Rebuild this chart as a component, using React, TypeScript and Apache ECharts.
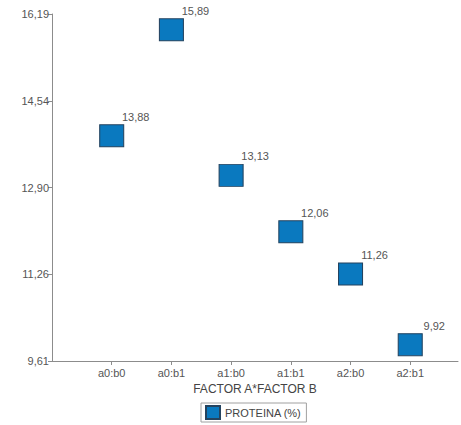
import React, { useEffect, useRef } from "react";
import * as echarts from "echarts";

const categories = ["a0:b0", "a0:b1", "a1:b0", "a1:b1", "a2:b0", "a2:b1"];
const proteina = [13.88, 15.89, 13.13, 12.06, 11.26, 9.92];
const yTicks = [9.61, 11.26, 12.9, 14.54, 16.19];
const seriesName = "PROTEINA (%)";
const xAxisName = "FACTOR A*FACTOR B";

const fmt = (v: number) => v.toFixed(2).replace(".", ",");

export default function App() {
  const ref = useRef<HTMLDivElement>(null);
  useEffect(() => {
    document.body.style.margin = "0";
    if (!ref.current) return;
    const chart = echarts.init(ref.current, null, { renderer: "svg" });
    const font = "'Liberation Sans', Arial, sans-serif";
    const axisColor = "#8c8c8c";
    const catIdx = categories.map((_, i) => i);
    chart.setOption({
      animation: false,
      textStyle: { fontFamily: font },
      grid: { left: 52, right: 3, top: 14, bottom: 64, containLabel: false },
      xAxis: {
        type: "value",
        min: -1,
        max: 5.8,
        name: xAxisName,
        nameLocation: "middle",
        nameGap: 21,
        nameTextStyle: { fontSize: 12, color: "#444", fontFamily: font },
        axisLine: { show: true, onZero: false, lineStyle: { color: axisColor } },
        axisTick: { show: true, length: 4, customValues: catIdx, lineStyle: { color: axisColor } },
        axisLabel: {
          customValues: catIdx,
          fontSize: 11,
          color: "#555",
          margin: 6,
          formatter: (v: number) => categories[Math.round(v)] ?? "",
        },
        splitLine: { show: false },
      },
      yAxis: {
        type: "value",
        min: yTicks[0],
        max: yTicks[yTicks.length - 1],
        axisLine: { show: true, onZero: false, lineStyle: { color: axisColor } },
        axisTick: { show: true, length: 4, customValues: yTicks, lineStyle: { color: axisColor } },
        axisLabel: {
          customValues: yTicks,
          fontSize: 11,
          color: "#555",
          margin: 3,
          formatter: (v: number) => fmt(v),
        },
        splitLine: { show: false },
      },
      legend: {
        left: 201,
        top: 403,
        padding: [2, 5, 2, 4],
        borderColor: "#a0a0a0",
        borderWidth: 1,
        itemWidth: 14,
        itemHeight: 13,
        itemGap: 6,
        textStyle: { fontSize: 11, color: "#444", fontFamily: font },
        data: [{ name: seriesName, icon: "rect" }],
      },
      series: [
        {
          name: seriesName,
          type: "scatter",
          symbol: "rect",
          symbolSize: [24, 22],
          itemStyle: { color: "#0a79bf", borderColor: "#24435f", borderWidth: 1, opacity: 1 },
          data: proteina.map((v, i) => [i, v]),
          label: {
            show: true,
            position: "top",
            distance: 2,
            offset: [24, 0],
            fontSize: 11,
            color: "#555",
            fontFamily: font,
            formatter: (p: any) => fmt(p.value[1]),
          },
        },
      ],
    });
    return () => chart.dispose();
  }, []);
  return <div ref={ref} style={{ width: 461, height: 425 }} />;
}
